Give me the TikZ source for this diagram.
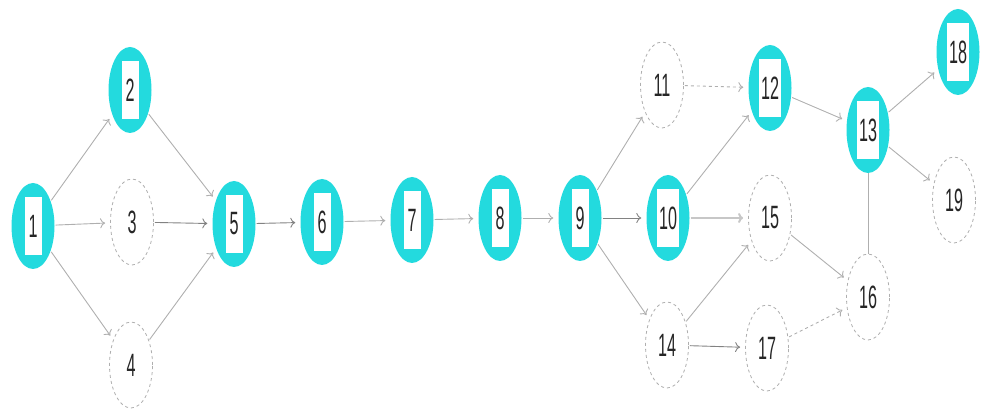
\documentclass[tikz,border=0pt]{standalone}
\usepackage{fontspec}
\setmainfont{Liberation Sans}
\usepackage{graphicx}
\usetikzlibrary{shapes.geometric,arrows.meta}
\definecolor{cy}{RGB}{35,218,222}
\definecolor{ed}{RGB}{175,175,175}
\definecolor{edd}{RGB}{130,130,130}
\newcommand\st[1]{\scalebox{0.95}[1.9]{#1}}
\tikzset{
  base/.style={ellipse, minimum width=43pt, minimum height=86pt, inner sep=0pt},
  cnode/.style={base, fill=cy},
  wbox/.style={rectangle, fill=white, minimum height=58pt, minimum width=17pt, inner xsep=2pt, inner ysep=0pt, font=\fontsize{17}{17}\selectfont, text=black!85},
  dnode/.style={base, draw=ed, dashed, line width=0.8pt, fill=white},
  lab/.style={font=\fontsize{17}{17}\selectfont, inner sep=0pt, text=black!85},
  edge/.style={draw=ed, line width=0.9pt, -{To[length=5pt,width=10pt]}, shorten >=5pt, shorten <=1pt},
  dedge/.style={edge, draw=edd},
}
\begin{document}
\begin{tikzpicture}[x=1pt,y=-1pt]
\useasboundingbox (0,0) rectangle (982,419);
% cyan nodes
\foreach \n/\x/\y in {1/33/226, 2/130/90, 5/234/224, 6/322/222, 7/412/220, 8/500/218, 9/580/218, 10/668/218, 12/770/88, 13/868/130, 18/958/52}{
  \node[cnode] (n\n) at (\x,\y) {};
  \node[wbox] (t\n) at (n\n) {\st{\n}};
}
% dashed nodes
\foreach \n/\x/\y in {3/132/222, 4/131/365, 11/662/85, 14/667/345, 15/770/218, 16/868/297, 17/767/348, 19/954/200}{
  \node[dnode] (n\n) at (\x,\y) {};
  \node[lab] (t\n) at (n\n) {\st{\n}};
}
% edges
\draw[edge] (n1) -- (n2);
\draw[edge] (n1) -- (n3);
\draw[edge] (n1) -- (n4);
\draw[edge] (n2) -- (n5);
\draw[dedge] (n3) -- (n5);
\draw[edge] (n4) -- (n5);
\draw[dedge] (n5) -- (n6);
\draw[edge] (n6) -- (n7);
\draw[edge] (n7) -- (n8);
\draw[edge] (n8) -- (n9);
\draw[edge] (n9) -- (n11);
\draw[dedge] (n9) -- (n10);
\draw[edge] (n9) -- (n14);
\draw[edge, dashed] (n11) -- (n12);
\draw[edge] (n10) -- (n12);
\draw[edge, line width=2pt, draw=ed!70] (n10) -- (n15);
\draw[edge] (n14) -- (n15);
\draw[dedge] (n14) -- (n17);
\draw[edge] (n15) -- (n16);
\draw[edge, dashed] (n17) -- (n16);
\draw[edge] (n12) -- (n13);
\draw[edge] (n13) -- (n18);
\draw[edge] (n13) -- (n19);
\draw[draw=ed, line width=0.8pt] (n13) -- (n16);
\end{tikzpicture}
\end{document}
